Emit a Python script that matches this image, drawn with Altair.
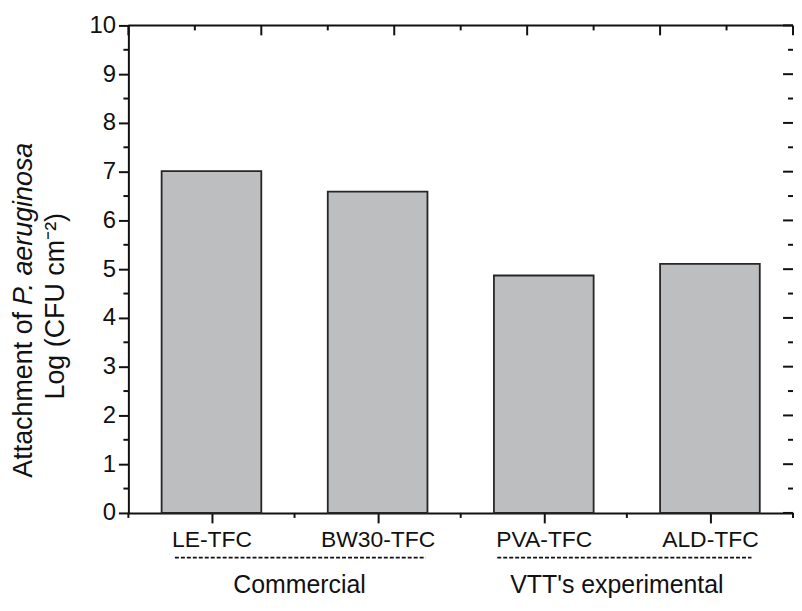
import altair as alt
import pandas as pd

# ---- data ----
categories = ["LE-TFC", "BW30-TFC", "PVA-TFC", "ALD-TFC"]
attachment = [7.01, 6.59, 4.87, 5.11]
positions = [1, 2, 3, 4]

y_major = list(range(0, 11))
y_minor = [0.5, 1.5, 2.5, 3.5, 4.5, 5.5, 6.5, 7.5, 8.5, 9.5]
x_minor = [0.5, 1.5, 2.5, 3.5, 4.5]
top_major = [0.5, 1.3, 2.1, 2.9, 3.7, 4.5]
top_minor = [0.9, 1.7, 2.5, 3.3, 4.1]

groups = ["Commercial", "VTT's experimental"]
group_start = [0.78, 2.72]
group_end = [2.29, 4.25]
group_center = [1.53, 3.44]

title_part1 = ["Attachment of"]
title_part2 = ["P. aeruginosa"]
title_line2 = ["Log (CFU cm\u207b\u00b2)"]

# ---- layout / style ----
W, H = 668, 490
FONT = "Liberation Sans"
BLACK = "#111111"
LW = 2

xscale = alt.Scale(domain=[0.5, 4.5], nice=False, zero=False)
yscale = alt.Scale(domain=[0, 10], nice=False, zero=True)

label_expr = "[''," + ",".join("'" + c + "'" for c in categories) + "][datum.value]"

x_axis = alt.Axis(
    values=positions, labelExpr=label_expr, tickSize=10, tickWidth=LW,
    tickColor=BLACK, domainColor=BLACK, domainWidth=LW,
    labelFont=FONT, labelFontSize=23, labelColor=BLACK, labelPadding=6,
    labelOverlap=False, labelFlush=False, grid=False, title=None,
)
y_axis = alt.Axis(
    values=y_major, tickSize=10, tickWidth=LW, tickColor=BLACK,
    domainColor=BLACK, domainWidth=LW, labelFont=FONT, labelFontSize=24,
    labelColor=BLACK, labelPadding=3, grid=False, title=None,
    labelOverlap=False, labelFlush=False,
)

bars_df = pd.DataFrame({"cat": categories, "val": attachment, "pos": positions})

bars = (
    alt.Chart(bars_df)
    .transform_calculate(lo="datum.pos - 0.3", hi="datum.pos + 0.3", base="0")
    .mark_rect(fill="#bdbec0", stroke="#262626", strokeWidth=1.8)
    .encode(
        x=alt.X("lo:Q", scale=xscale, axis=x_axis),
        x2="hi:Q",
        y=alt.Y("val:Q", scale=yscale, axis=y_axis),
        y2="base:Q",
    )
)

def yrules(vals, x1, x2):
    return (
        alt.Chart(pd.DataFrame({"v": vals}))
        .mark_rule(color=BLACK, strokeWidth=LW)
        .encode(y=alt.Y("v:Q", scale=yscale, axis=y_axis), x=alt.value(x1), x2=alt.value(x2))
    )

def xrules(vals, y1, y2):
    return (
        alt.Chart(pd.DataFrame({"v": vals}))
        .mark_rule(color=BLACK, strokeWidth=LW)
        .encode(x=alt.X("v:Q", scale=xscale, axis=x_axis), y=alt.value(y1), y2=alt.value(y2))
    )

left_minor = yrules(y_minor, -5, 0)
right_major = yrules(y_major, W - 10, W)
right_minor = yrules(y_minor, W - 5, W)
top_maj = xrules(top_major, 0, 10)
top_min = xrules(top_minor, 0, 5)
bottom_minor = xrules(x_minor, H, H + 5)

# top frame line (the right frame line is cut off in the reference)
top_line = (
    alt.Chart(pd.DataFrame({"v": [top_major[0], top_major[-1]]}))
    .transform_aggregate(lo="min(v)", hi="max(v)")
    .mark_rule(color=BLACK, strokeWidth=LW)
    .encode(x=alt.X("lo:Q", scale=xscale, axis=x_axis), x2="hi:Q", y=alt.value(0))
)

grp_df = pd.DataFrame({"g": groups, "s": group_start, "e": group_end, "c": group_center})
grp_lines = (
    alt.Chart(grp_df)
    .mark_rule(color=BLACK, strokeWidth=1.8, strokeDash=[4, 2])
    .encode(x=alt.X("s:Q", scale=xscale, axis=x_axis), x2="e:Q", y=alt.value(H + 45))
)
grp_text = (
    alt.Chart(grp_df)
    .mark_text(font=FONT, fontSize=25, baseline="top", align="center", color=BLACK)
    .encode(x=alt.X("c:Q", scale=xscale, axis=x_axis), y=alt.value(H + 60), text="g:N")
)

S = 288
t1 = (
    alt.Chart(pd.DataFrame({"t": title_part1}))
    .mark_text(font=FONT, fontSize=27, angle=270, align="right", baseline="alphabetic", color=BLACK)
    .encode(x=alt.value(-97), y=alt.value(S), text="t:N")
)
t2 = (
    alt.Chart(pd.DataFrame({"t": title_part2}))
    .mark_text(font=FONT, fontSize=27, angle=270, align="left", baseline="alphabetic",
               fontStyle="italic", dx=7, color=BLACK)
    .encode(x=alt.value(-97), y=alt.value(S), text="t:N")
)
t3 = (
    alt.Chart(pd.DataFrame({"t": title_line2}))
    .mark_text(font=FONT, fontSize=27, angle=270, align="left", baseline="alphabetic", color=BLACK)
    .encode(x=alt.value(-65), y=alt.value(376), text="t:N")
)

chart = (
    alt.layer(bars, left_minor, right_major, right_minor, top_maj, top_min, bottom_minor,
              top_line, grp_lines, grp_text, t1, t2, t3)
    .properties(width=W, height=H, background="white",
                padding={"left": 2, "top": 4, "right": 0, "bottom": 0})
    .configure_view(stroke="transparent", strokeWidth=0)
)

chart.save("out.html", embed_options={"renderer": "svg", "actions": False})
